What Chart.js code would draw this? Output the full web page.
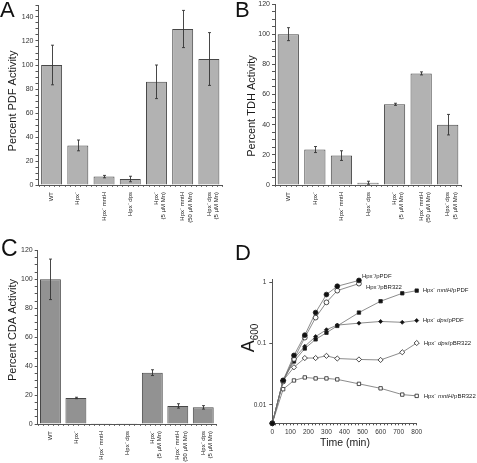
<!DOCTYPE html>
<html>
<head>
<meta charset="utf-8">
<script src="https://cdn.jsdelivr.net/npm/chart.js@4.4.1/dist/chart.umd.min.js"></script>
<style>
  body { margin: 0; background: #fff; }
  #wrap { position: relative; width: 477px; height: 463px; overflow: hidden; font-family: "Liberation Sans", Arial, sans-serif; }
  canvas { position: absolute; }
  .letter { position: absolute; font-size: 22px; line-height: 1; color: #111; }
</style>
</head>
<body>
<div id="wrap">
  <canvas id="chartA" width="240" height="230" style="left:0;top:0"></canvas>
  <canvas id="chartB" width="237" height="230" style="left:240px;top:0"></canvas>
  <canvas id="chartC" width="240" height="233" style="left:0;top:230px"></canvas>
  <canvas id="chartD" width="237" height="233" style="left:240px;top:230px"></canvas>
  <div class="letter" style="left:0;top:-1px">A</div>
  <div class="letter" style="left:235px;top:-1px">B</div>
  <div class="letter" style="left:1px;top:237px;font-size:23px">C</div>
  <div class="letter" style="left:235px;top:242px">D</div>
</div>
<script>
// strains (x labels of the three bar panels)
const strainLabels = ['WT', 'Hpx⁻', 'Hpx⁻ mntH', 'Hpx⁻ dps',
  ['Hpx⁻', '(5 µM Mn)'], ['Hpx⁻ mntH', '(50 µM Mn)'], ['Hpx⁻ dps', '(5 µM Mn)']];

// A - PDF activity (percent of WT) and error
const pdfActivity = [100, 33, 7, 5, 86, 130, 105];
const pdfError = [16.5, 4.5, 1, 2.3, 14, 15.5, 22];
// B - TDH activity
const tdhActivity = [100, 23.5, 19.5, 1.5, 53.5, 74, 40];
const tdhError = [4.3, 2, 3.2, 1, 0.7, 1, 6.8];
// C - CDA activity
const cdaActivity = [100, 18, 0.5, 0.5, 35.5, 12.5, 11.5];
const cdaError = [14, 0.5, 0, 0, 2, 1.5, 1.2];

// D - growth curves, A600 vs time (min)
const timeMin = [0, 60, 120, 180, 240, 300, 360, 480, 600, 720, 800];
const hpxPPDF = [0.005, 0.025, 0.064, 0.137, 0.32, 0.63, 0.86, 1.07];
const hpxPBR322 = [0.005, 0.024, 0.056, 0.125, 0.265, 0.47, 0.73, 0.95];
const mntHPPDF = [0.005, 0.025, 0.051, 0.083, 0.117, 0.15, 0.194, 0.32, 0.49, 0.66, 0.73];
const dpsPPDF = [0.005, 0.025, 0.057, 0.09, 0.13, 0.168, 0.2, 0.215, 0.229, 0.222, 0.237];
const dpsPBR322 = [0.005, 0.025, 0.041, 0.058, 0.058, 0.063, 0.057, 0.055, 0.054, 0.072, 0.102];
const mntHPBR322 = [0.005, 0.018, 0.025, 0.028, 0.027, 0.027, 0.026, 0.022, 0.0186, 0.0147, 0.014];

const FAMILY = "'Liberation Sans', Arial, Helvetica, sans-serif";
Chart.defaults.font.family = FAMILY;
Chart.defaults.color = '#222';
Chart.defaults.animation = false;

// fix the size of an axis box so the plot area lands where it should
function fixWidth(w) {
  return (scale) => { scale.width = w; scale.paddingTop = 0; scale.paddingBottom = 0; };
}
function fixHeight(h) {
  return (scale) => { scale.height = h; scale.paddingLeft = 0; scale.paddingRight = 0; };
}

// text drawn on the canvas (axis captions)
function captions(items) {
  return {
    id: 'captions',
    afterDraw(chart) {
      const ctx = chart.ctx;
      items.forEach((it) => {
        ctx.save();
        ctx.translate(it.x, it.y);
        if (it.rotate) ctx.rotate(-Math.PI / 2);
        ctx.fillStyle = '#1a1a1a';
        ctx.textBaseline = 'middle';
        if (it.sub) {
          ctx.font = it.size + 'px ' + FAMILY;
          const w1 = ctx.measureText(it.text).width;
          ctx.font = it.subSize + 'px ' + FAMILY;
          const w2 = ctx.measureText(it.sub).width;
          let x0 = -(w1 + w2) / 2;
          ctx.textAlign = 'left';
          ctx.textBaseline = 'alphabetic';
          ctx.font = it.size + 'px ' + FAMILY;
          ctx.fillText(it.text, x0, 0);
          ctx.font = it.subSize + 'px ' + FAMILY;
          ctx.fillText(it.sub, x0 + w1, 4);
        } else {
          ctx.font = it.size + 'px ' + FAMILY;
          ctx.textAlign = 'center';
          ctx.fillText(it.text, 0, 0);
        }
        ctx.restore();
      });
    }
  };
}

const errorBars = {
  id: 'errorBars',
  afterDatasetsDraw(chart) {
    const ctx = chart.ctx;
    const ds = chart.data.datasets[0];
    const meta = chart.getDatasetMeta(0);
    const y = chart.scales.y;
    ctx.save();
    ctx.strokeStyle = '#333';
    ctx.lineWidth = 0.9;
    ds.errors.forEach((e, i) => {
      if (!e) return;
      const v = ds.data[i];
      const x = Math.round(meta.data[i].x) + 0.5;
      const top = y.getPixelForValue(v + e);
      const bot = y.getPixelForValue(v - e);
      ctx.beginPath();
      ctx.moveTo(x, top); ctx.lineTo(x, bot);
      ctx.moveTo(x - 1.5, top); ctx.lineTo(x + 1.5, top);
      ctx.moveTo(x - 1.5, bot); ctx.lineTo(x + 1.5, bot);
      ctx.stroke();
    });
    ctx.restore();
  }
};

// small ruler ticks under the category axis
const rulerTicks = {
  id: 'rulerTicks',
  afterDraw(chart) {
    const a = chart.chartArea;
    const n = chart.data.labels.length * 5;
    const ctx = chart.ctx;
    ctx.save();
    ctx.strokeStyle = '#555';
    ctx.lineWidth = 0.8;
    ctx.beginPath();
    for (let i = 0; i <= n; i++) {
      const x = Math.round(a.left + (a.right - a.left) * i / n) + 0.5;
      ctx.moveTo(x, a.bottom);
      ctx.lineTo(x, a.bottom + 2);
    }
    ctx.stroke();
    ctx.restore();
  }
};

function barPanel(id, values, errors, opts) {
  return new Chart(document.getElementById(id), {
    type: 'bar',
    data: {
      labels: strainLabels,
      datasets: [{
        data: values,
        errors: errors,
        backgroundColor: opts.fill,
        borderColor: '#474747',
        borderWidth: 1,
        barPercentage: opts.barPct,
        categoryPercentage: 1.0,
      }],
    },
    options: {
      responsive: false,
      layout: { padding: opts.padding },
      plugins: { legend: { display: false }, tooltip: { enabled: false } },
      scales: {
        x: {
          afterFit: fixHeight(opts.xHeight),
          grid: { display: true, drawOnChartArea: false, tickLength: 4, tickColor: 'rgba(0,0,0,0)' },
          border: { display: true, color: '#555', width: 1 },
          ticks: { autoSkip: false, minRotation: 90, maxRotation: 90, padding: 3,
                   font: { size: 6 }, color: '#222' },
        },
        y: {
          min: 0,
          max: opts.yMax,
          afterFit: fixWidth(opts.yWidth),
          grid: { drawOnChartArea: false, tickLength: 3, tickColor: '#555' },
          border: { display: true, color: '#555', width: 1 },
          ticks: {
            stepSize: 5,
            autoSkip: false,
            padding: 2,
            font: { size: 7 },
            color: '#333',
            callback: (v) => (v % 20 === 0 ? String(v) : ''),
          },
        },
      },
    },
    plugins: [errorBars, rulerTicks, captions(opts.captions)],
  });
}

barPanel('chartA', pdfActivity, pdfError, {
  fill: '#b2b2b2', barPct: 0.8, yMax: 150,
  padding: { left: 0, top: 5, right: 18, bottom: 0 }, yWidth: 38.5, xHeight: 45,
  captions: [{ text: 'Percent PDF Activity', x: 12.5, y: 101, size: 11, rotate: true }],
});

barPanel('chartB', tdhActivity, tdhError, {
  fill: '#b2b2b2', barPct: 0.8, yMax: 120,
  padding: { left: 0, top: 4, right: 16, bottom: 0 }, yWidth: 35, xHeight: 45,
  captions: [{ text: 'Percent TDH Activity', x: 12, y: 106, size: 11, rotate: true }],
});

barPanel('chartC', cdaActivity, cdaError, {
  fill: '#929292', barPct: 0.82, yMax: 120,
  padding: { left: 0, top: 20.4, right: 24, bottom: 0 }, yWidth: 37.7, xHeight: 39,
  captions: [{ text: 'Percent CDA Activity', x: 12.5, y: 100, size: 11, rotate: true }],
});

// D
function xy(vals) {
  return vals.map((v, i) => ({ x: timeMin[i], y: v }));
}
function series(vals, style, filled, radius, parts, dx, dy) {
  return {
    data: xy(vals),
    borderColor: '#6e6e6e',
    borderWidth: 0.8,
    pointStyle: style,
    pointRadius: radius,
    pointBackgroundColor: filled ? '#111' : '#fff',
    pointBorderColor: '#222',
    pointBorderWidth: 0.8,
    clip: false,
    labelParts: parts,
    labelDx: dx,
    labelDy: dy,
  };
}

const seriesLabels = {
  id: 'seriesLabels',
  afterDatasetsDraw(chart) {
    const ctx = chart.ctx;
    ctx.save();
    ctx.fillStyle = '#1a1a1a';
    ctx.textBaseline = 'middle';
    ctx.textAlign = 'left';
    chart.data.datasets.forEach((ds, i) => {
      const pts = chart.getDatasetMeta(i).data;
      const last = pts[pts.length - 1];
      let x = last.x + ds.labelDx;
      const y = last.y + ds.labelDy;
      ds.labelParts.forEach(([txt, italic]) => {
        ctx.font = (italic ? 'italic ' : '') + '6px ' + FAMILY;
        ctx.fillText(txt, x, y);
        x += ctx.measureText(txt).width;
      });
    });
    ctx.restore();
  }
};

const isDecade = (v) => Math.abs(Math.log10(v) - Math.round(Math.log10(v))) < 1e-6;

new Chart(document.getElementById('chartD'), {
  type: 'line',
  data: {
    datasets: [
      series(hpxPPDF, 'circle', true, 2.4, [['Hpx⁻/pPDF', false]], 3, -4),
      series(hpxPBR322, 'circle', false, 2.4, [['Hpx⁻/pBR322', false]], 7, 4),
      series(mntHPPDF, 'rect', true, 2.4, [['Hpx⁻ ', false], ['mntH', true], ['/pPDF', false]], 6, 0),
      series(dpsPPDF, 'rectRot', true, 2.0, [['Hpx⁻ ', false], ['dps', true], ['/pPDF', false]], 6, 0),
      series(dpsPBR322, 'rectRot', false, 2.6, [['Hpx⁻ ', false], ['dps', true], ['/pBR322', false]], 7, 0),
      series(mntHPBR322, 'rect', false, 2.4, [['Hpx⁻ ', false], ['mntH', true], ['/pBR322', false]], 7, 0),
    ],
  },
  options: {
    responsive: false,
    layout: { padding: { left: 0, top: 49.7, right: 60.3, bottom: 0 } },
    plugins: { legend: { display: false }, tooltip: { enabled: false } },
    scales: {
      x: {
        type: 'linear',
        min: 0,
        max: 800,
        afterFit: fixHeight(39.7),
        grid: { drawOnChartArea: false, tickLength: 2, tickColor: '#555' },
        border: { display: true, color: '#555', width: 1 },
        ticks: {
          stepSize: 20,
          autoSkip: false,
          maxRotation: 0,
          padding: 3,
          font: { size: 6.5 },
          color: '#333',
          callback: (v) => (v % 100 === 0 ? String(v) : ''),
        },
      },
      y: {
        type: 'logarithmic',
        min: 0.005,
        max: 1.1,
        afterFit: fixWidth(32.3),
        grid: {
          drawOnChartArea: false,
          tickLength: 3,
          tickColor: (c) => (c.tick && isDecade(c.tick.value) ? '#555' : 'rgba(0,0,0,0)'),
        },
        border: { display: true, color: '#555', width: 1 },
        ticks: {
          autoSkip: false,
          padding: 3,
          font: { size: 6.5 },
          color: '#333',
          callback: (v) => (isDecade(v) ? String(+v.toPrecision(3)) : ''),
        },
      },
    },
  },
  plugins: [seriesLabels, captions([
    { text: 'A', sub: '600', x: 14, y: 108, size: 18, subSize: 10, rotate: true },
    { text: 'Time (min)', x: 105, y: 213, size: 10.5 },
  ])],
});
</script>
</body>
</html>
